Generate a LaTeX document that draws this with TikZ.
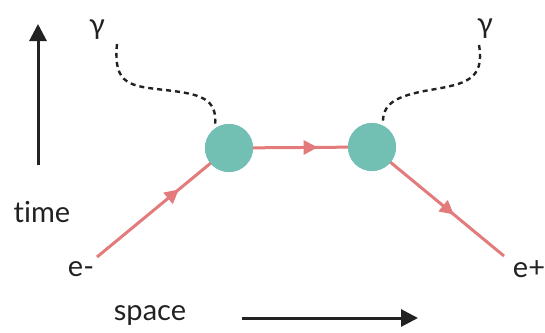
\documentclass[tikz,border=0pt]{standalone}
\usepackage{fontspec}
\setmainfont{Lato}
\usetikzlibrary{arrows.meta,decorations.markings}
\definecolor{teal}{HTML}{72BFB4}
\definecolor{pinkline}{HTML}{E37B7C}
\definecolor{ink}{HTML}{222222}
\tikzset{
  vertex/.style={circle,fill=teal,minimum size=48pt,inner sep=0pt},
  lbl/.style={font=\fontsize{29}{32}\selectfont,text=ink,inner sep=0pt},
  fermion/.style={draw=pinkline,line width=3pt,postaction={decorate},
    decoration={markings,mark=at position #1 with {\arrow[pinkline]{Triangle[length=14pt,width=14pt]}}}},
  photon/.style={draw=ink,line width=2.4pt,dash pattern=on 5pt off 4pt},
  axis/.style={draw=ink,line width=3pt,-{Triangle[length=17pt,width=17pt]}}
}
\begin{document}
\begin{tikzpicture}[x=1pt,y=-1pt]
\useasboundingbox (0,0) rectangle (545,332);
\node[vertex] (v1) at (229,148) {};
\node[vertex] (v2) at (372,147) {};
\coordinate (em) at (97,257);
\coordinate (ep) at (504,256);
\coordinate (g1) at (117,44);
\coordinate (g2) at (479,45);
\node[lbl] at (97,30) {γ};
\node[lbl] at (485,29) {γ};
\node[lbl] (tl) at (42,212) {t\kern0pt ime};
\node[lbl] (sl) at (150,316) {space};
\node[lbl] at (81,269) {e-};
\node[lbl] at (529,269) {e+};
\coordinate (t0) at (38,165);
\coordinate (t1) at (38,24);
\coordinate (s0) at (242,318);
\coordinate (s1) at (418,318);
\draw[axis] (t0) -- (t1);
\draw[axis] (s0) -- (s1);
\path[fermion=0.62] (em) -- (v1.center);
\path[fermion=0.62] (v1.center) -- (v2.center);
\path[fermion=0.62] (v2.center) -- (ep);
\node[vertex] at (v1) {};
\node[vertex] at (v2) {};
\draw[photon] (g1) .. controls (113,85) and (130,86) .. (165,90) .. controls (200,94) and (218,98) .. (215,126);
\draw[photon] (g2) .. controls (485,80) and (465,84) .. (430,90) .. controls (395,96) and (382,104) .. (383,124);
\end{tikzpicture}
\end{document}
